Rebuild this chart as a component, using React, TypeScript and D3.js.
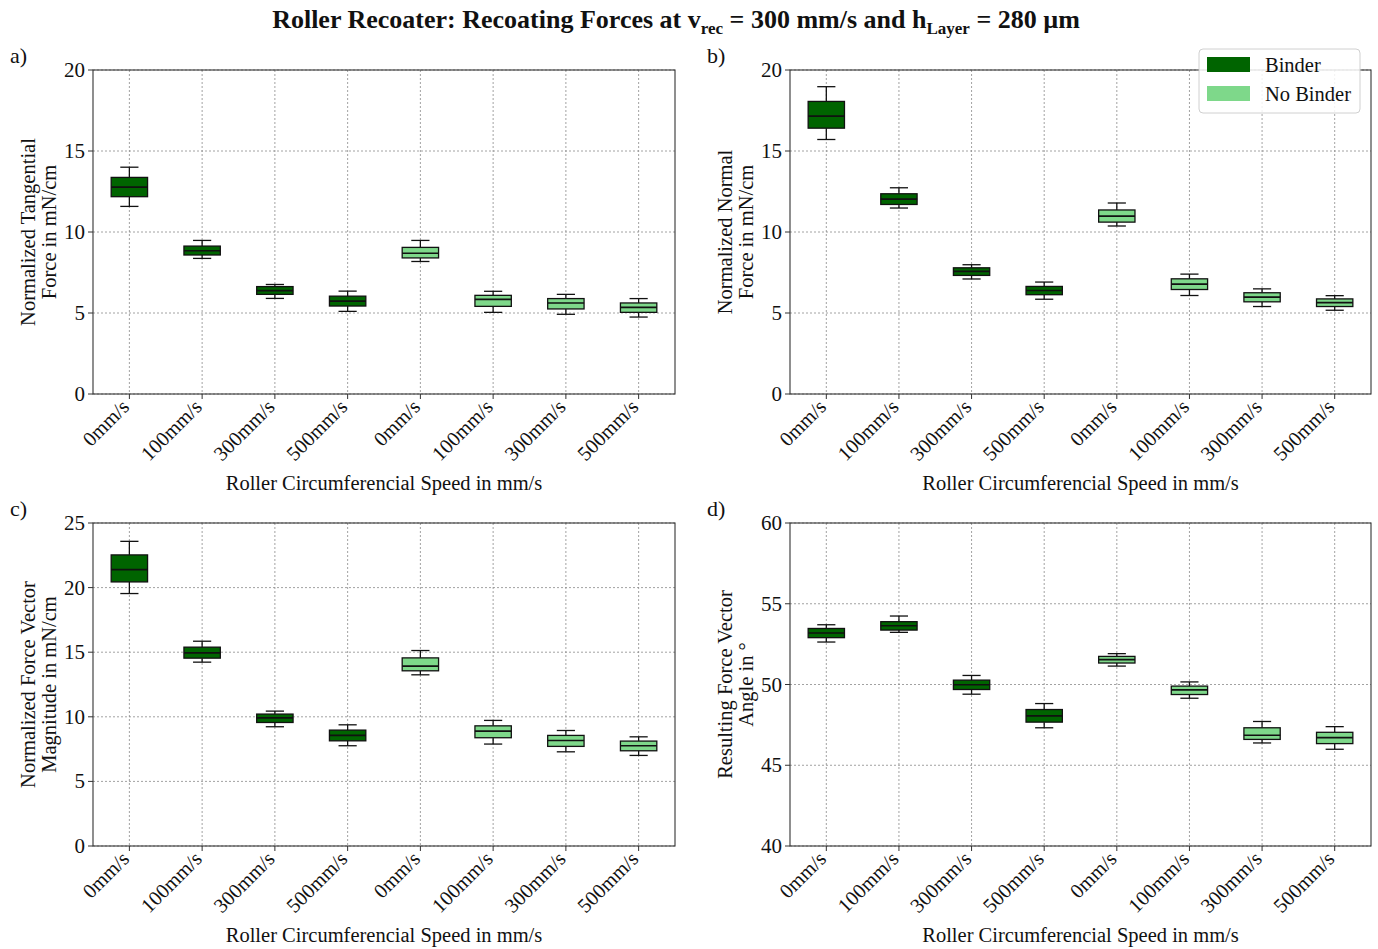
import React from "react";
import * as d3 from "d3";

// Categories: roller circumferential speeds, first four with binder, last four without
const categories = ["0mm/s", "100mm/s", "300mm/s", "500mm/s", "0mm/s", "100mm/s", "300mm/s", "500mm/s"];
const groups = ["Binder", "Binder", "Binder", "Binder", "No Binder", "No Binder", "No Binder", "No Binder"];

// Box statistics per category: [whiskerLow, q1, median, q3, whiskerHigh]
const tangential: number[][] = [
  [11.58, 12.18, 12.77, 13.37, 14.0],
  [8.37, 8.58, 8.84, 9.13, 9.48],
  [5.9, 6.15, 6.38, 6.63, 6.76],
  [5.1, 5.43, 5.73, 6.04, 6.35],
  [8.18, 8.4, 8.69, 9.05, 9.48],
  [5.04, 5.41, 5.84, 6.09, 6.34],
  [4.92, 5.25, 5.62, 5.89, 6.15],
  [4.75, 5.04, 5.35, 5.62, 5.89],
];
const normal: number[][] = [
  [15.71, 16.41, 17.15, 18.06, 18.97],
  [11.48, 11.7, 12.03, 12.36, 12.73],
  [7.1, 7.32, 7.57, 7.79, 7.98],
  [5.85, 6.13, 6.39, 6.64, 6.91],
  [10.37, 10.61, 10.98, 11.36, 11.79],
  [6.08, 6.45, 6.78, 7.11, 7.4],
  [5.4, 5.69, 5.98, 6.25, 6.49],
  [5.17, 5.4, 5.64, 5.87, 6.07],
];
const magnitude: number[][] = [
  [19.54, 20.44, 21.39, 22.53, 23.58],
  [14.23, 14.54, 14.95, 15.39, 15.85],
  [9.23, 9.56, 9.92, 10.21, 10.44],
  [7.76, 8.14, 8.56, 8.97, 9.38],
  [13.25, 13.56, 13.92, 14.56, 15.13],
  [7.89, 8.38, 8.89, 9.3, 9.72],
  [7.29, 7.71, 8.17, 8.56, 8.94],
  [7.01, 7.37, 7.76, 8.12, 8.45],
];
const angle: number[][] = [
  [52.63, 52.9, 53.19, 53.47, 53.7],
  [53.23, 53.37, 53.64, 53.89, 54.24],
  [49.4, 49.69, 49.98, 50.27, 50.56],
  [47.32, 47.67, 48.06, 48.45, 48.82],
  [51.14, 51.33, 51.54, 51.74, 51.91],
  [49.15, 49.38, 49.67, 49.9, 50.16],
  [46.38, 46.6, 46.86, 47.32, 47.71],
  [45.99, 46.34, 46.71, 47.04, 47.39],
];

const forceTicks = [0, 5, 10, 15, 20];
const magnitudeTicks = [0, 5, 10, 15, 20, 25];
const angleTicks = [40, 45, 50, 55, 60];

const legendItems = ["Binder", "No Binder"];
const colors: Record<string, string> = { Binder: "#006400", "No Binder": "#7ED88A" };

const FONT = "'Liberation Serif', 'Times New Roman', serif";
const FS = 20.5;

type PanelProps = {
  letter: string;
  data: number[][];
  domain: [number, number];
  ticks: number[];
  yLabel: [string, string];
  left: number;
  right: number;
  top: number;
  bottom: number;
};

function Panel({ letter, data, domain, ticks, yLabel, left, right, top, bottom }: PanelProps) {
  const x = d3
    .scaleBand<number>()
    .domain(d3.range(categories.length))
    .range([left, right])
    .paddingInner(0)
    .paddingOuter(0);
  const y = d3.scaleLinear().domain(domain).range([bottom, top]);
  const bw = x.bandwidth() * 0.5;
  const capW = bw * 0.5;
  const midX = (left + right) / 2;
  const midY = (top + bottom) / 2;

  return (
    <g>
      <text x={left - 83} y={top - 7} fontSize={22} fontFamily={FONT} fill="#111">
        {letter}
      </text>
      {/* grid */}
      {ticks.map((t) => (
        <line key={"gy" + t} x1={left} x2={right} y1={y(t)} y2={y(t)} stroke="#8a8a8a" strokeWidth={0.8} strokeDasharray="2,2" />
      ))}
      {categories.map((_, i) => {
        const cx = x(i)! + x.bandwidth() / 2;
        return (
          <line key={"gx" + i} x1={cx} x2={cx} y1={top} y2={bottom} stroke="#8a8a8a" strokeWidth={0.8} strokeDasharray="2,2" />
        );
      })}
      {/* boxes */}
      {data.map((s, i) => {
        const cx = x(i)! + x.bandwidth() / 2;
        const [lo, q1, med, q3, hi] = s;
        return (
          <g key={"b" + i} stroke="#111" strokeWidth={1.3}>
            <line x1={cx} x2={cx} y1={y(hi)} y2={y(q3)} />
            <line x1={cx} x2={cx} y1={y(q1)} y2={y(lo)} />
            <line x1={cx - capW / 2} x2={cx + capW / 2} y1={y(hi)} y2={y(hi)} />
            <line x1={cx - capW / 2} x2={cx + capW / 2} y1={y(lo)} y2={y(lo)} />
            <rect x={cx - bw / 2} y={y(q3)} width={bw} height={y(q1) - y(q3)} fill={colors[groups[i]]} />
            <line x1={cx - bw / 2} x2={cx + bw / 2} y1={y(med)} y2={y(med)} strokeWidth={1.6} />
          </g>
        );
      })}
      {/* frame */}
      <rect x={left} y={top} width={right - left} height={bottom - top} fill="none" stroke="#333" strokeWidth={1.1} />
      {/* y ticks */}
      {ticks.map((t) => (
        <g key={"ty" + t}>
          <line x1={left - 5} x2={left} y1={y(t)} y2={y(t)} stroke="#333" strokeWidth={1} />
          <text x={left - 8} y={y(t) + 7} textAnchor="end" fontSize={21} fontFamily={FONT} fill="#111">
            {t}
          </text>
        </g>
      ))}
      {/* x ticks */}
      {categories.map((c, i) => {
        const cx = x(i)! + x.bandwidth() / 2;
        return (
          <g key={"tx" + i}>
            <line x1={cx} x2={cx} y1={bottom} y2={bottom + 5} stroke="#333" strokeWidth={1} />
            <text
              transform={`translate(${cx + 1},${bottom + 14}) rotate(-45)`}
              textAnchor="end"
              fontSize={FS}
              fontFamily={FONT}
              fill="#111"
            >
              {c}
            </text>
          </g>
        );
      })}
      <text x={midX} y={bottom + 96} textAnchor="middle" fontSize={FS} fontFamily={FONT} fill="#111">
        Roller Circumferencial Speed in mm/s
      </text>
      <text transform={`translate(${left - 58},${midY}) rotate(-90)`} textAnchor="middle" fontSize={FS} fontFamily={FONT} fill="#111">
        {yLabel[0]}
      </text>
      <text transform={`translate(${left - 37},${midY}) rotate(-90)`} textAnchor="middle" fontSize={FS} fontFamily={FONT} fill="#111">
        {yLabel[1]}
      </text>
    </g>
  );
}

export default function App() {
  const W = 1378;
  const H = 949;
  return (
    <svg width={W} height={H} style={{ position: "absolute", left: 0, top: 0, background: "#fff" }}>
      <rect width={W} height={H} fill="#fff" />
      <text x={676} y={28} textAnchor="middle" fontSize={26} fontWeight="bold" fontFamily={FONT} fill="#111">
        Roller Recoater: Recoating Forces at v
        <tspan dy={6} fontSize={17}>rec</tspan>
        <tspan dy={-6}> = 300 mm/s and h</tspan>
        <tspan dy={6} fontSize={17}>Layer</tspan>
        <tspan dy={-6}> = 280 µm</tspan>
      </text>
      <Panel letter="a)" data={tangential} domain={[0, 20]} ticks={forceTicks} yLabel={["Normalized Tangential", "Force in mN/cm"]} left={93} right={675} top={70} bottom={394} />
      <Panel letter="b)" data={normal} domain={[0, 20]} ticks={forceTicks} yLabel={["Normalized Normal", "Force in mN/cm"]} left={790} right={1371} top={70} bottom={394} />
      <Panel letter="c)" data={magnitude} domain={[0, 25]} ticks={magnitudeTicks} yLabel={["Normalized Force Vector", "Magnitude in mN/cm"]} left={93} right={675} top={523} bottom={846} />
      <Panel letter="d)" data={angle} domain={[40, 60]} ticks={angleTicks} yLabel={["Resulting Force Vector", "Angle in °"]} left={790} right={1371} top={523} bottom={846} />
      {/* legend */}
      <g>
        <rect x={1199} y={49} width={161} height={64} rx={4} fill="#fff" fillOpacity={0.85} stroke="#d0d0d0" strokeWidth={1} />
        {legendItems.map((k, i) => (
          <g key={k}>
            <rect x={1207} y={57 + i * 29} width={43} height={15} fill={colors[k]} />
            <text x={1265} y={72 + i * 29} fontSize={FS} fontFamily={FONT} fill="#111">
              {k}
            </text>
          </g>
        ))}
      </g>
    </svg>
  );
}
